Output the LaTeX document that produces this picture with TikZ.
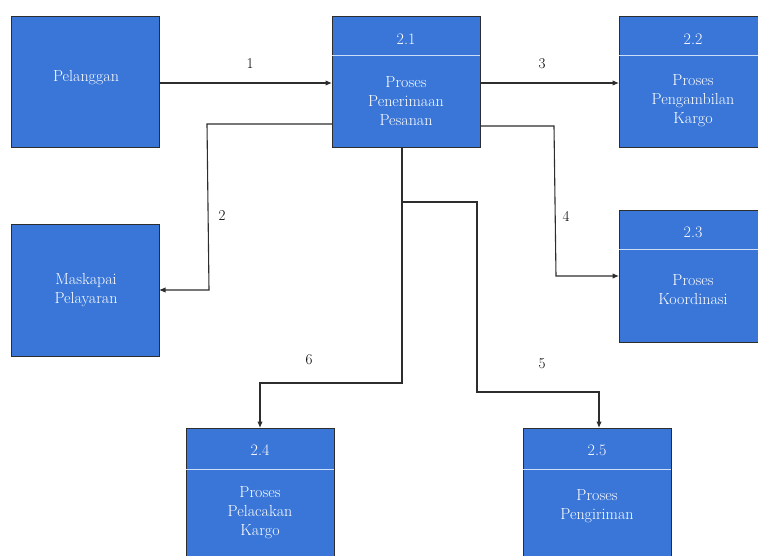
\documentclass[tikz,border=0pt]{standalone}
\usetikzlibrary{arrows.meta}
\definecolor{boxblue}{RGB}{58,118,216}
\definecolor{edgegray}{RGB}{45,45,45}
\definecolor{divline}{RGB}{205,222,248}
\tikzset{
  box/.style={draw=edgegray, line width=1pt, fill=boxblue, rectangle, anchor=north west,
    minimum width=148pt, minimum height=131pt, inner sep=0pt, outer sep=0pt},
  btxt/.style={text=white, font=\fontsize{16}{19}\selectfont, align=center, inner sep=0pt},
  divider/.style={draw=divline, line width=1pt},
  conn/.style={draw=edgegray, line width=1.1pt},
  arr/.style={conn, -{Latex[length=6.5pt,width=5.5pt]}},
  lbl/.style={text=black, font=\fontsize{15}{18}\selectfont, inner sep=0pt}
}
\begin{document}
\begin{tikzpicture}[x=1pt,y=-1pt]
\useasboundingbox (0,0) rectangle (758,556);
\clip (0,0) rectangle (758,556);
% boxes
\node[box] (pel) at (11,17) {};
\node[box] (p21) at (332,17) {};
\node[box] (p22) at (619,17) {};
\node[box] (mas) at (11,225) {};
\node[box] (p23) at (619,211) {};
\node[box] (p24) at (186,428) {};
\node[box] (p25) at (523,428) {};
% dividers
\draw[divider] (p21.north west |- 0,56) -- (p21.north east |- 0,56);
\draw[divider] (p22.north west |- 0,56) -- (p22.north east |- 0,56);
\draw[divider] (p23.north west |- 0,250) -- (p23.north east |- 0,250);
\draw[divider] (p24.north west |- 0,469) -- (p24.north east |- 0,469);
\draw[divider] (p25.north west |- 0,469) -- (p25.north east |- 0,469);
% texts
\node[btxt] (tpel) at (86,78) {Pelanggan};
\node[btxt] (tmas) at (86,290) {Maskapai\\Pelayaran};
\node[btxt] (n21) at (406,39) {2.1};
\node[btxt] (t21) at (406,101) {Proses\\Penerimaan\\Pesanan};
\node[btxt] (n22) at (693,39) {2.2};
\node[btxt] (t22) at (693,101) {Proses\\Pengambilan\\Kargo};
\node[btxt] (n23) at (693,232) {2.3};
\node[btxt] (t23) at (693,290) {Proses\\Koordinasi};
\node[btxt] (n24) at (260,450) {2.4};
\node[btxt] (t24) at (260,513) {Proses\\Pelacakan\\Kargo};
\node[btxt] (n25) at (597,450) {2.5};
\node[btxt] (t25) at (597,506) {Proses\\Pengiriman};
% connectors
\coordinate (c2a) at (207,124);
\coordinate (c2b) at (209,290);
\coordinate (c4a) at (554,126);
\coordinate (c4b) at (556,276);
\coordinate (c6a) at (402,383);
\coordinate (c6b) at (260,383);
\coordinate (c5s) at (402,202);
\coordinate (c5a) at (477,202);
\coordinate (c5b) at (477,392);
\coordinate (c5c) at (599,392);
\draw[arr] (pel.east |- 0,83) -- (p21.west |- 0,83);
\draw[arr] (p21.east |- 0,83) -- (p22.west |- 0,83);
\draw[arr] (p21.west |- c2a) -- (c2a) -- (c2b) -- (mas.east |- c2b);
\draw[arr] (p21.east |- c4a) -- (c4a) -- (c4b) -- (p23.west |- c4b);
\draw[arr] (p21.south -| c6a) -- (c6a) -- (c6b) -- (p24.north);
\draw[arr] (c5s) -- (c5a) -- (c5b) -- (c5c) -- (p25.north -| c5c);
% labels
\node[lbl] (l1) at (250,64) {1};
\node[lbl] (l3) at (542,64) {3};
\node[lbl] (l2) at (222,216) {2};
\node[lbl] (l4) at (566,216) {4};
\node[lbl] (l6) at (309,360) {6};
\node[lbl] (l5) at (542,364) {5};
\end{tikzpicture}
\end{document}
